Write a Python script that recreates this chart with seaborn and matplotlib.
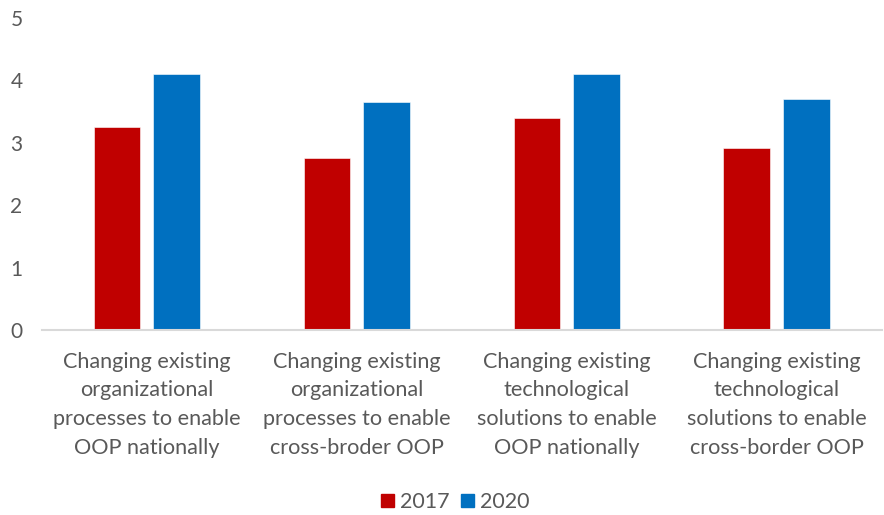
import matplotlib
matplotlib.use("Agg")
import matplotlib.pyplot as plt
import seaborn as sns
import pandas as pd

categories = [
    "Changing existing\norganizational\nprocesses to enable\nOOP nationally",
    "Changing existing\norganizational\nprocesses to enable\ncross-broder OOP",
    "Changing existing\ntechnological\nsolutions to enable\nOOP nationally",
    "Changing existing\ntechnological\nsolutions to enable\ncross-border OOP",
]
years = ["2017", "2020"]
values_2017 = [3.25, 2.75, 3.40, 2.91]
values_2020 = [4.11, 3.65, 4.11, 3.71]
yticks = [0, 1, 2, 3, 4, 5]

df = pd.DataFrame({
    "category": categories * 2,
    "year": [years[0]] * 4 + [years[1]] * 4,
    "value": values_2017 + values_2020,
})

sns.set_theme(style="white")
plt.rcParams["font.family"] = ["Lato", "DejaVu Sans"]

text_color = "#595959"
fig = plt.figure(figsize=(8.84, 5.15), dpi=100)
ax = fig.add_axes([0.0475, 0.359, 0.95, 0.606])

sns.barplot(
    data=df, x="category", y="value", hue="year",
    order=categories, hue_order=years,
    palette={"2017": "#C00000", "2020": "#0070C0"},
    width=0.57, gap=0.217, saturation=1,
    edgecolor="white", linewidth=0.4, ax=ax,
)

ax.set_ylim(0, 5)
ax.set_yticks(yticks)
ax.set_xlim(-0.5, 3.5)
ax.set_xlabel("")
ax.set_ylabel("")
for s in ["top", "right", "left"]:
    ax.spines[s].set_visible(False)
ax.spines["bottom"].set_color("#D9D9D9")
ax.spines["bottom"].set_linewidth(1.5)
ax.tick_params(axis="y", length=0, pad=14, labelsize=15, labelcolor=text_color)
ax.tick_params(axis="x", length=0, pad=15.5, labelsize=15.6, labelcolor=text_color)
for lbl in ax.get_xticklabels():
    lbl.set_linespacing(1.55)
for lbl in ax.get_yticklabels():
    lbl.set_horizontalalignment("right")

ax.legend_.remove()
handles = [plt.Rectangle((0, 0), 1, 1, color=c) for c in ["#C00000", "#0070C0"]]
fig.legend(
    handles, years, loc="center", bbox_to_anchor=(0.515, 0.025),
    ncol=2, frameon=False, fontsize=15.5, labelcolor=text_color,
    handlelength=0.6, handleheight=0.6, handletextpad=0.3, columnspacing=0.5,
)

fig.savefig("out.png", dpi=100)
